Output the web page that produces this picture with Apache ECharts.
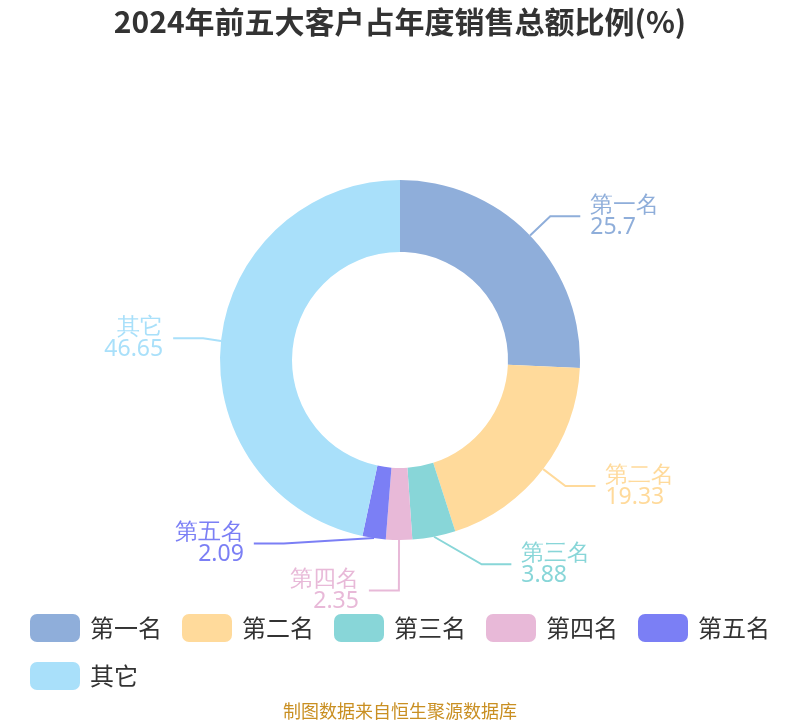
<!DOCTYPE html>
<html><head><meta charset="utf-8">
<script src="https://cdn.jsdelivr.net/npm/echarts@6/dist/echarts.min.js"></script>
<style>html,body{margin:0;padding:0;background:#fff}#c{width:800px;height:720px}</style>
</head><body><div id="c"></div>
<script>
const titleText = '2024年前五大客户占年度销售总额比例(%)';
const names = ['第一名','第二名','第三名','第四名','第五名','其它'];
const values = [25.7, 19.33, 3.88, 2.35, 2.09, 46.65];
const colors = ['#8FAEDA','#FFDA9B','#88D6D8','#E8B9D8','#7B7FF5','#A9E0FA'];
const source = '制图数据来自恒生聚源数据库';

// per-slice label-line styling (third slice's line bends outward in the reference)
const labelLineStyles = [null, null, {length2: 72, minTurnAngle: 150}, null, null, null];

const chart = echarts.init(document.getElementById('c'));
chart.setOption({
  color: colors,
  title: [{
    text: titleText, left: 'center', top: 2,
    textStyle: {fontSize: 30, fontWeight: 'bold', color: '#333', fontFamily: 'Noto Sans CJK SC'}
  },{
    text: source, left: 'center', top: 697,
    textStyle: {fontSize: 18, fontWeight: 'normal', color: '#C98F22', fontFamily: 'Noto Sans CJK SC'}
  }],
  legend: {
    left: 25, top: 609, itemWidth: 50, itemHeight: 28, itemGap: 20,
    width: 775,
    itemStyle: {borderRadius: 5},
    textStyle: {fontSize: 24, color: '#333', fontFamily: 'Noto Sans CJK SC', padding: [0,4,0,5]},
    data: names
  },
  series: [{
    type: 'pie',
    left: 0, right: 0, top: 0, bottom: 106,
    center: [400, 360],
    radius: [108, 180],
    startAngle: 90,
    clockwise: true,
    data: names.map((n, i) => {
      const d = {name: n, value: values[i]};
      if (labelLineStyles[i]) d.labelLine = labelLineStyles[i];
      return d;
    }),
    label: {
      formatter: '{b}\n{c}',
      fontSize: 23, lineHeight: 22,
      fontFamily: 'Noto Sans',
      color: 'inherit',
      distanceToLabelLine: 10
    },
    labelLine: {length: 28, length2: 30, lineStyle: {width: 2}},
    itemStyle: {borderWidth: 0}
  }]
});
</script></body></html>
